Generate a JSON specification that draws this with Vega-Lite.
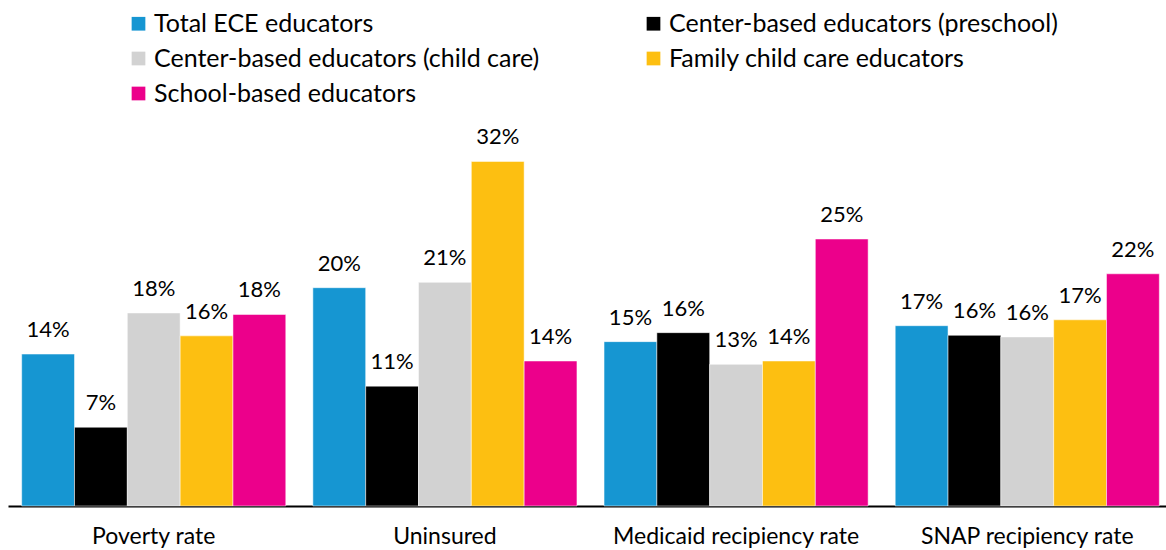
{
  "$schema": "https://vega.github.io/schema/vega-lite/v6.json",
  "autosize": "none",
  "width": 1165,
  "height": 400,
  "padding": {"left": 8, "top": 106, "right": 0, "bottom": 44},
  "background": "white",
  "config": {
    "view": {"stroke": null},
    "font": "Lato",
    "text": {"font": "Lato"}
  },
  "data": {
    "values": [
      {"category": "Poverty rate", "series": "Total ECE educators", "value": 0.142},
      {"category": "Poverty rate", "series": "Center-based educators (preschool)", "value": 0.0736},
      {"category": "Poverty rate", "series": "Center-based educators (child care)", "value": 0.1804},
      {"category": "Poverty rate", "series": "Family child care educators", "value": 0.159},
      {"category": "Poverty rate", "series": "School-based educators", "value": 0.179},
      {"category": "Uninsured", "series": "Total ECE educators", "value": 0.204},
      {"category": "Uninsured", "series": "Center-based educators (preschool)", "value": 0.112},
      {"category": "Uninsured", "series": "Center-based educators (child care)", "value": 0.209},
      {"category": "Uninsured", "series": "Family child care educators", "value": 0.322},
      {"category": "Uninsured", "series": "School-based educators", "value": 0.1355},
      {"category": "Medicaid recipiency rate", "series": "Total ECE educators", "value": 0.1536},
      {"category": "Medicaid recipiency rate", "series": "Center-based educators (preschool)", "value": 0.162},
      {"category": "Medicaid recipiency rate", "series": "Center-based educators (child care)", "value": 0.1324},
      {"category": "Medicaid recipiency rate", "series": "Family child care educators", "value": 0.1355},
      {"category": "Medicaid recipiency rate", "series": "School-based educators", "value": 0.2495},
      {"category": "SNAP recipiency rate", "series": "Total ECE educators", "value": 0.1685},
      {"category": "SNAP recipiency rate", "series": "Center-based educators (preschool)", "value": 0.1595},
      {"category": "SNAP recipiency rate", "series": "Center-based educators (child care)", "value": 0.158},
      {"category": "SNAP recipiency rate", "series": "Family child care educators", "value": 0.174},
      {"category": "SNAP recipiency rate", "series": "School-based educators", "value": 0.217}
    ]
  },
  "encoding": {
    "x": {
      "field": "category",
      "type": "nominal",
      "sort": ["Poverty rate", "Uninsured", "Medicaid recipiency rate", "SNAP recipiency rate"],
      "scale": {"paddingInner": 0.093, "paddingOuter": 0.047},
      "axis": {
        "title": null,
        "labelAngle": 0,
        "ticks": false,
        "domainColor": "#000000",
        "domainWidth": 2,
        "labelFont": "Lato",
        "labelFontSize": 23,
        "labelColor": "#000000",
        "labelPadding": 19.5,
        "labelLimit": 400
      }
    },
    "xOffset": {
      "field": "series",
      "type": "nominal",
      "sort": ["Total ECE educators", "Center-based educators (preschool)", "Center-based educators (child care)", "Family child care educators", "School-based educators"],
      "scale": {"paddingInner": 0, "paddingOuter": 0}
    },
    "y": {
      "field": "value",
      "type": "quantitative",
      "scale": {"domain": [0, 0.3738], "nice": false},
      "axis": null
    }
  },
  "layer": [
    {
      "mark": {"type": "bar", "stroke": "white", "strokeWidth": 0.5},
      "encoding": {
        "color": {
          "field": "series",
          "type": "nominal",
          "scale": {
            "domain": ["Total ECE educators", "Center-based educators (child care)", "School-based educators", "Center-based educators (preschool)", "Family child care educators"],
            "range": ["#1696d2", "#d2d2d2", "#ec008b", "#000000", "#fdbf11"]
          },
          "legend": {
            "title": null,
            "orient": "none",
            "legendX": 118,
            "legendY": -95,
            "columns": 2,
            "symbolType": "square",
            "symbolSize": 188,
            "symbolStrokeWidth": 0,
            "labelFont": "Lato",
            "labelFontSize": 25,
            "labelColor": "#000000",
            "labelOffset": 3,
            "labelLimit": 600,
            "rowPadding": 9,
            "columnPadding": 101,
            "padding": 0
          }
        }
      }
    },
    {
      "mark": {"type": "text", "baseline": "alphabetic", "dy": -17, "fontSize": 22, "font": "Lato", "color": "#000000"},
      "encoding": {
        "text": {"field": "value", "type": "quantitative", "format": ".0%"}
      }
    }
  ]
}
